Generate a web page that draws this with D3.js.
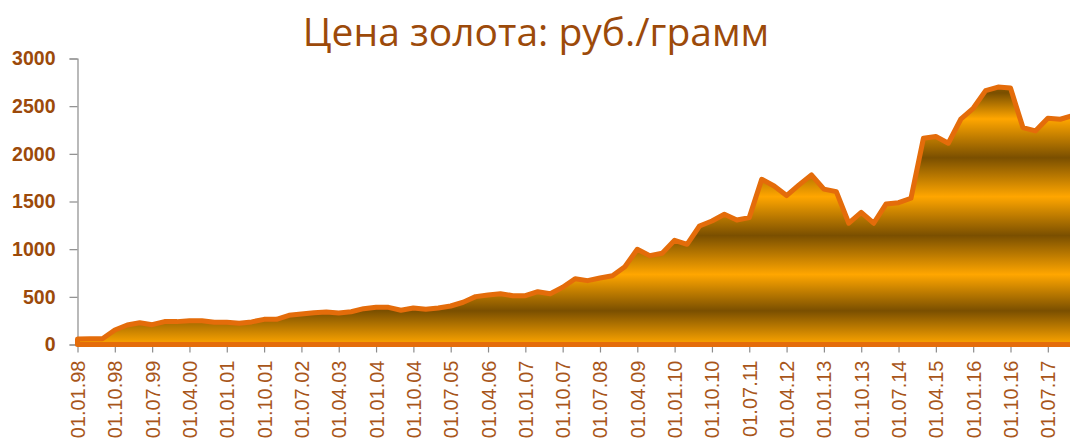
<!DOCTYPE html>
<html>
<head>
<meta charset="utf-8">
<script src="https://cdn.jsdelivr.net/npm/d3@7"></script>
<style>
  body { margin: 0; background: #fff; }
  svg { display: block; }
</style>
</head>
<body>
<svg id="chart"></svg>
<script>
// chart size
const width = 1070;
const height = 441;

// quarterly dates (every 3rd one gets a label)
const dates = [
  "01.01.98","01.04.98","01.07.98","01.10.98","01.01.99","01.04.99","01.07.99","01.10.99",
  "01.01.00","01.04.00","01.07.00","01.10.00","01.01.01","01.04.01","01.07.01","01.10.01",
  "01.01.02","01.04.02","01.07.02","01.10.02","01.01.03","01.04.03","01.07.03","01.10.03",
  "01.01.04","01.04.04","01.07.04","01.10.04","01.01.05","01.04.05","01.07.05","01.10.05",
  "01.01.06","01.04.06","01.07.06","01.10.06","01.01.07","01.04.07","01.07.07","01.10.07",
  "01.01.08","01.04.08","01.07.08","01.10.08","01.01.09","01.04.09","01.07.09","01.10.09",
  "01.01.10","01.04.10","01.07.10","01.10.10","01.01.11","01.04.11","01.07.11","01.10.11",
  "01.01.12","01.04.12","01.07.12","01.10.12","01.01.13","01.04.13","01.07.13","01.10.13",
  "01.01.14","01.04.14","01.07.14","01.10.14","01.01.15","01.04.15","01.07.15","01.10.15",
  "01.01.16","01.04.16","01.07.16","01.10.16","01.01.17","01.04.17","01.07.17","01.10.17",
  "01.01.18"
];

// price, rub per gram
const prices = [
  58, 60, 60, 152, 205, 229, 208, 240,
  240, 250, 250, 233, 233, 222, 237, 264,
  264, 306, 320, 334, 340, 330, 344, 376,
  390, 390, 359, 383, 369, 383, 404, 443,
  502, 519, 533, 512, 512, 554, 533, 600,
  690, 670, 698, 722, 816, 999, 932, 957,
  1093, 1051, 1243, 1296, 1366, 1306, 1331, 1733,
  1663, 1562, 1674, 1779, 1630, 1604, 1272, 1387,
  1272, 1474, 1488, 1534, 2164, 2181, 2111, 2363,
  2478, 2663, 2700, 2690, 2275, 2240, 2373, 2363,
  2401
];

const yTicks = [0, 500, 1000, 1500, 2000, 2500, 3000];

const data = dates.map((d, i) => ({ date: d, value: prices[i] }));

const brown = "#9c4a0a";

const svg = d3.select("#chart")
  .attr("width", width)
  .attr("height", height);

// scales: first point on the axis, labelled dates every 3 quarters
const x = d3.scalePoint()
  .domain(dates)
  .range([77.5, 77.5 + 12.44 * (dates.length - 1)]);

const y = d3.scaleLinear()
  .domain([0, 3000])
  .range([344.5, 58.5]);

// golden banded fill
const stops = [
  [0.00, "#8a5a00"], [0.03, "#7a4f00"], [0.13, "#ffa600"], [0.28, "#7a4f00"],
  [0.43, "#ffa600"], [0.58, "#7a4f00"], [0.73, "#ffa600"], [0.87, "#7a4f00"],
  [1.00, "#ffa600"]
];
const grad = svg.append("defs").append("linearGradient")
  .attr("id", "gold")
  .attr("gradientUnits", "userSpaceOnUse")
  .attr("x1", 0).attr("x2", 0)
  .attr("y1", y(2720)).attr("y2", y(0));
grad.selectAll("stop")
  .data(stops)
  .enter()
  .append("stop")
  .attr("offset", (d) => d[0])
  .attr("stop-color", (d) => d[1]);

// axes
const yAxis = svg.append("g")
  .attr("transform", "translate(77.5,0)")
  .call(d3.axisLeft(y).tickValues(yTicks).tickFormat(d3.format("d")).tickSize(8).tickPadding(14));
yAxis.select(".domain").attr("stroke", "#8c8c8c").attr("stroke-width", 1.2);
yAxis.selectAll(".tick line").attr("stroke", "#8c8c8c").attr("stroke-width", 1.2);
yAxis.selectAll(".tick text")
  .attr("fill", brown)
  .style("font-family", "'Liberation Sans', Arial, sans-serif")
  .style("font-size", "19.5px")
  .style("font-weight", "bold");

const xAxis = svg.append("g")
  .attr("transform", "translate(0,344.5)")
  .call(d3.axisBottom(x)
    .tickValues(dates.filter((d, i) => i % 3 === 0))
    .tickSize(8)
    .tickSizeOuter(0));
xAxis.select(".domain").attr("stroke", "#8c8c8c").attr("stroke-width", 1.2);
xAxis.selectAll(".tick line").attr("stroke", "#8c8c8c").attr("stroke-width", 1.2);
xAxis.selectAll(".tick text")
  .attr("fill", "#a8561a")
  .attr("transform", "rotate(-90)")
  .attr("text-anchor", "end")
  .attr("x", -16)
  .attr("y", 0)
  .attr("dy", "0.35em")
  .style("font-family", "'Liberation Sans', Arial, sans-serif")
  .style("font-size", "20px");

// area with an orange outline all around
const area = d3.area()
  .x((d) => x(d.date))
  .y0(y(0))
  .y1((d) => y(d.value));

svg.append("path")
  .datum(data)
  .attr("d", area)
  .attr("fill", "url(#gold)")
  .attr("stroke", "#e46c0a")
  .attr("stroke-width", 5)
  .attr("stroke-linejoin", "round");

// title
svg.append("text")
  .attr("x", 536)
  .attr("y", 46)
  .attr("text-anchor", "middle")
  .attr("fill", brown)
  .style("font-family", "'Open Sans', 'Noto Sans', sans-serif")
  .style("font-size", "39px")
  .text("Цена золота: руб./грамм");
</script>
</body>
</html>
